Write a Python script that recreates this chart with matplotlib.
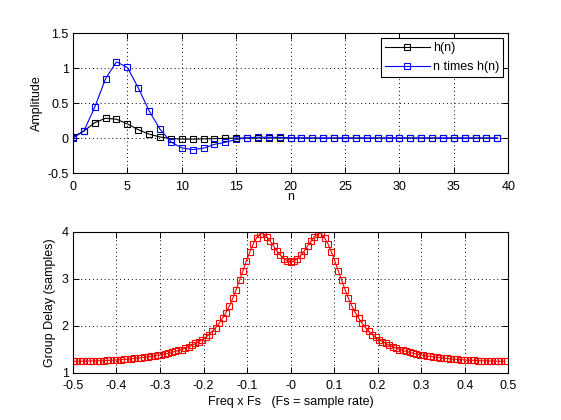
import numpy as np
import matplotlib
matplotlib.use("Agg")
import matplotlib.pyplot as plt
from matplotlib.ticker import FormatStrFormatter

plt.rcParams['font.family'] = ['Liberation Sans', 'DejaVu Sans']
plt.rcParams['font.size'] = 9

# impulse response, n = 0..39
n = np.arange(40)
h = [0.015, 0.10, 0.22, 0.283, 0.27, 0.203, 0.12, 0.056, 0.016, -0.008,
     -0.014, -0.015, -0.012, -0.007, -0.004, -0.0013, 0.0004, 0.0007, 0.0007, 0.0005,
     0.0002, 0.0001, 0, 0, 0, 0, 0, 0, 0, 0,
     0, 0, 0, 0, 0, 0, 0, 0, 0, 0]
nh = [0.0, 0.10, 0.44, 0.85, 1.09, 1.01, 0.72, 0.39, 0.127, -0.055,
      -0.14, -0.165, -0.145, -0.09, -0.06, -0.02, 0.006, 0.012, 0.012, 0.01,
      0.004, 0.002, 0, 0, 0, 0, 0, 0, 0, 0,
      0, 0, 0, 0, 0, 0, 0, 0, 0, 0]

# group delay on 128 frequency bins, k = -64..63
freq = np.arange(-64, 64) / 128.0
gd = [1.24, 1.24, 1.24, 1.24, 1.245, 1.245, 1.25, 1.25, 1.25, 1.255,
      1.26, 1.26, 1.265, 1.27, 1.275, 1.28, 1.285, 1.29, 1.30, 1.31,
      1.315, 1.325, 1.335, 1.345, 1.355, 1.37, 1.38, 1.395, 1.41, 1.43,
      1.45, 1.47, 1.49, 1.52, 1.55, 1.58, 1.62, 1.66, 1.70, 1.75,
      1.81, 1.88, 1.96, 2.05, 2.16, 2.28, 2.42, 2.58, 2.77, 2.97,
      3.17, 3.38, 3.57, 3.74, 3.87, 3.96, 3.96, 3.90, 3.80, 3.70,
      3.59, 3.50, 3.43, 3.38, 3.35, 3.38, 3.43, 3.50, 3.59, 3.70,
      3.80, 3.90, 3.96, 3.96, 3.87, 3.74, 3.57, 3.38, 3.17, 2.97,
      2.77, 2.58, 2.42, 2.28, 2.16, 2.05, 1.96, 1.88, 1.81, 1.75,
      1.70, 1.66, 1.62, 1.58, 1.55, 1.52, 1.49, 1.47, 1.45, 1.43,
      1.41, 1.395, 1.38, 1.37, 1.355, 1.345, 1.335, 1.325, 1.315, 1.31,
      1.30, 1.29, 1.285, 1.28, 1.275, 1.27, 1.265, 1.26, 1.26, 1.255,
      1.25, 1.25, 1.25, 1.245, 1.245, 1.24, 1.24, 1.24]

fig = plt.figure(figsize=(5.61, 4.2), dpi=100)
ax1 = fig.add_axes([0.13, 0.588, 0.776, 0.333])
ax2 = fig.add_axes([0.13, 0.113, 0.776, 0.335])

mk = dict(marker='s', markersize=3.8, markerfacecolor='none', markeredgewidth=0.8, linewidth=0.8)

ax1.plot(n, h, color='k', label='h(n)', **mk)
ax1.plot(n, nh, color='b', label='n times h(n)', **mk)
ax1.set_xlim(0, 40)
ax1.set_ylim(-0.5, 1.5)
ax1.set_xticks(np.arange(0, 41, 5))
ax1.set_yticks([-0.5, 0, 0.5, 1, 1.5])
ax1.yaxis.set_major_formatter(FormatStrFormatter('%g'))
ax1.set_ylabel('Amplitude', labelpad=3)
leg = ax1.legend(loc='upper right', fancybox=False, framealpha=1, edgecolor='k',
                 borderaxespad=0.4, borderpad=0.3, labelspacing=0.6,
                 handlelength=3.6, handletextpad=0.3, fontsize=9)
leg.get_frame().set_linewidth(0.8)

ax2.plot(freq, gd, color='r', **mk)
ax2.set_xlim(-0.5, 0.5)
ax2.set_ylim(1, 4)
ax2.set_xticks(np.round(np.arange(-0.5, 0.51, 0.1), 1))
ax2.set_yticks([1, 2, 3, 4])
ax2.xaxis.set_major_formatter(FormatStrFormatter('%g'))
ax2.set_ylabel('Group Delay (samples)', labelpad=4)

for ax in (ax1, ax2):
    ax.grid(True, linestyle=(0, (1, 3)), color='k', linewidth=0.7)
    ax.tick_params(direction='in', top=True, right=True, length=4, width=0.7)
    ax.tick_params(axis='x', pad=5.5)
    ax.tick_params(axis='y', pad=3)
    for s in ax.spines.values():
        s.set_linewidth(0.8)

ax1.set_xlabel('n', labelpad=-1)
ax2.set_xlabel('Freq x Fs   (Fs = sample rate)', labelpad=2.5)

fig.savefig('out.png', dpi=100, facecolor='white')
